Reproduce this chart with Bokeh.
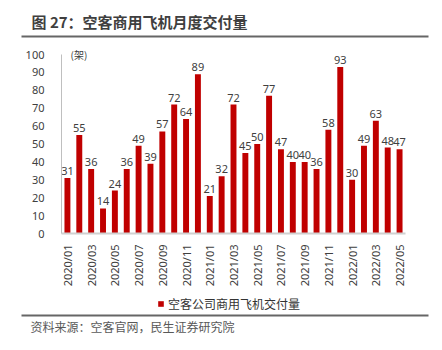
from bokeh.plotting import figure
from bokeh.models import (Range1d, FixedTicker, Label, Legend, LegendItem,
                          ColumnDataSource, BoxAnnotation, LinearAxis)
from bokeh.core.properties import value
from bokeh.embed import file_html
from bokeh.resources import INLINE
import math

# ---- data ----
months = ["2020/01", "2020/02", "2020/03", "2020/04", "2020/05", "2020/06",
          "2020/07", "2020/08", "2020/09", "2020/10", "2020/11", "2020/12",
          "2021/01", "2021/02", "2021/03", "2021/04", "2021/05", "2021/06",
          "2021/07", "2021/08", "2021/09", "2021/10", "2021/11", "2021/12",
          "2022/01", "2022/02", "2022/03", "2022/04", "2022/05"]
deliveries = [31, 55, 36, 14, 24, 36, 49, 39, 57, 72, 64, 89,
              21, 32, 72, 45, 50, 77, 47, 40, 40, 36, 58, 93,
              30, 49, 63, 48, 47]
y_ticks = [0, 10, 20, 30, 40, 50, 60, 70, 80, 90, 100]
title_text = "图 27：空客商用飞机月度交付量"
series_name = "空客公司商用飞机交付量"
source_text = "资料来源：空客官网，民生证券研究院"
unit_text = "(架)"

CJK = "Noto Sans CJK SC"
LAT = "Noto Sans"
W, H = 442, 350
PL, PR, PT, PB = 61, 405, 54, 233   # plot area (canvas px)
BAR_RED = "#C00000"
RULE = "#666666"

n = len(months)
px_per_cat = (PR - PL) / n
px_per_unit = (PB - PT) / 100.0
x_range = Range1d(-0.5 - PL / px_per_cat, -0.5 + (W - PL) / px_per_cat)
y_range = Range1d(-(H - PB) / px_per_unit, PB / px_per_unit)


def cx(px):  # canvas px -> data x
    return -0.5 + (px - PL) / px_per_cat


def cy(py):  # canvas px -> data y
    return (PB - py) / px_per_unit


p = figure(width=W, height=H, output_backend="svg", toolbar_location=None,
           x_range=x_range, y_range=y_range,
           x_axis_location=None, y_axis_location=None,
           min_border=0, min_border_left=0, min_border_right=0,
           min_border_top=0, min_border_bottom=0)
p.outline_line_color = None
p.grid.visible = False
p.background_fill_color = "white"
p.border_fill_color = "white"

xs = list(range(n))
src = ColumnDataSource(dict(x=xs, y=deliveries, lbl=[str(v) for v in deliveries]))
bars = p.vbar(x="x", top="y", width=0.5, source=src, fill_color=BAR_RED,
              line_color=None)
p.text(x="x", y="y", text="lbl", source=src, text_align="center",
       text_baseline="bottom", y_offset=-3, text_font=value(LAT),
       text_font_size="11px", text_color="#404040")

# ---- axes (fixed inside the full-canvas frame) ----
xa = LinearAxis(fixed_location=0, bounds=(-0.5, n - 0.5))
xa.ticker = FixedTicker(ticks=xs[::2])
xa.major_label_overrides = {i: months[i] for i in xs}
xa.major_label_orientation = math.pi / 2
xa.major_tick_line_color = None
xa.minor_tick_line_color = None
xa.axis_line_color = "#d0d0d0"
xa.axis_line_width = 2
xa.major_label_standoff = 5
xa.major_label_text_font = LAT
xa.major_label_text_font_size = "11px"
xa.major_label_text_color = "#404040"
p.add_layout(xa, "below")

ya = LinearAxis(fixed_location=-0.5, bounds=(0, 100))
ya.ticker = FixedTicker(ticks=y_ticks)
ya.major_tick_line_color = None
ya.minor_tick_line_color = None
ya.axis_line_color = "#bfbfbf"
ya.major_label_standoff = 11
ya.major_label_text_font = LAT
ya.major_label_text_font_size = "11px"
ya.major_label_text_color = "#404040"
p.add_layout(ya, "left")

# ---- heading, rules, notes ----
p.text(x=[cx(31)], y=[cy(21)], text=[title_text], text_font=value(CJK),
       text_font_style="bold", text_font_size="15px", text_color="#3f3f3f",
       text_align="left", text_baseline="middle")
for ry in (36, 315):
    p.add_layout(BoxAnnotation(left=21, right=428, bottom=H - ry - 1, top=H - ry + 1,
                               left_units="screen", right_units="screen",
                               top_units="screen", bottom_units="screen",
                               fill_color=RULE, fill_alpha=1, line_color=None))
p.add_layout(Label(x=70, y=H - 54, x_units="screen", y_units="screen",
                   text=unit_text, text_font=CJK, text_font_size="10px",
                   text_color="#404040", text_baseline="middle"))
p.add_layout(Label(x=30, y=H - 326, x_units="screen", y_units="screen",
                   text=source_text, text_font=CJK, text_font_size="12px",
                   text_color="#595959", text_baseline="middle"))

legend = Legend(items=[LegendItem(label=series_name, renderers=[bars])],
                location=(157, H - 312), orientation="horizontal",
                glyph_width=7, glyph_height=7, label_standoff=4, padding=0,
                margin=0, spacing=0, border_line_color=None,
                background_fill_alpha=0, label_text_font=CJK,
                label_text_font_size="12px", label_text_color="#333333",
                label_height=14)
p.add_layout(legend)

open("out.html", "w").write(file_html(p, INLINE))
